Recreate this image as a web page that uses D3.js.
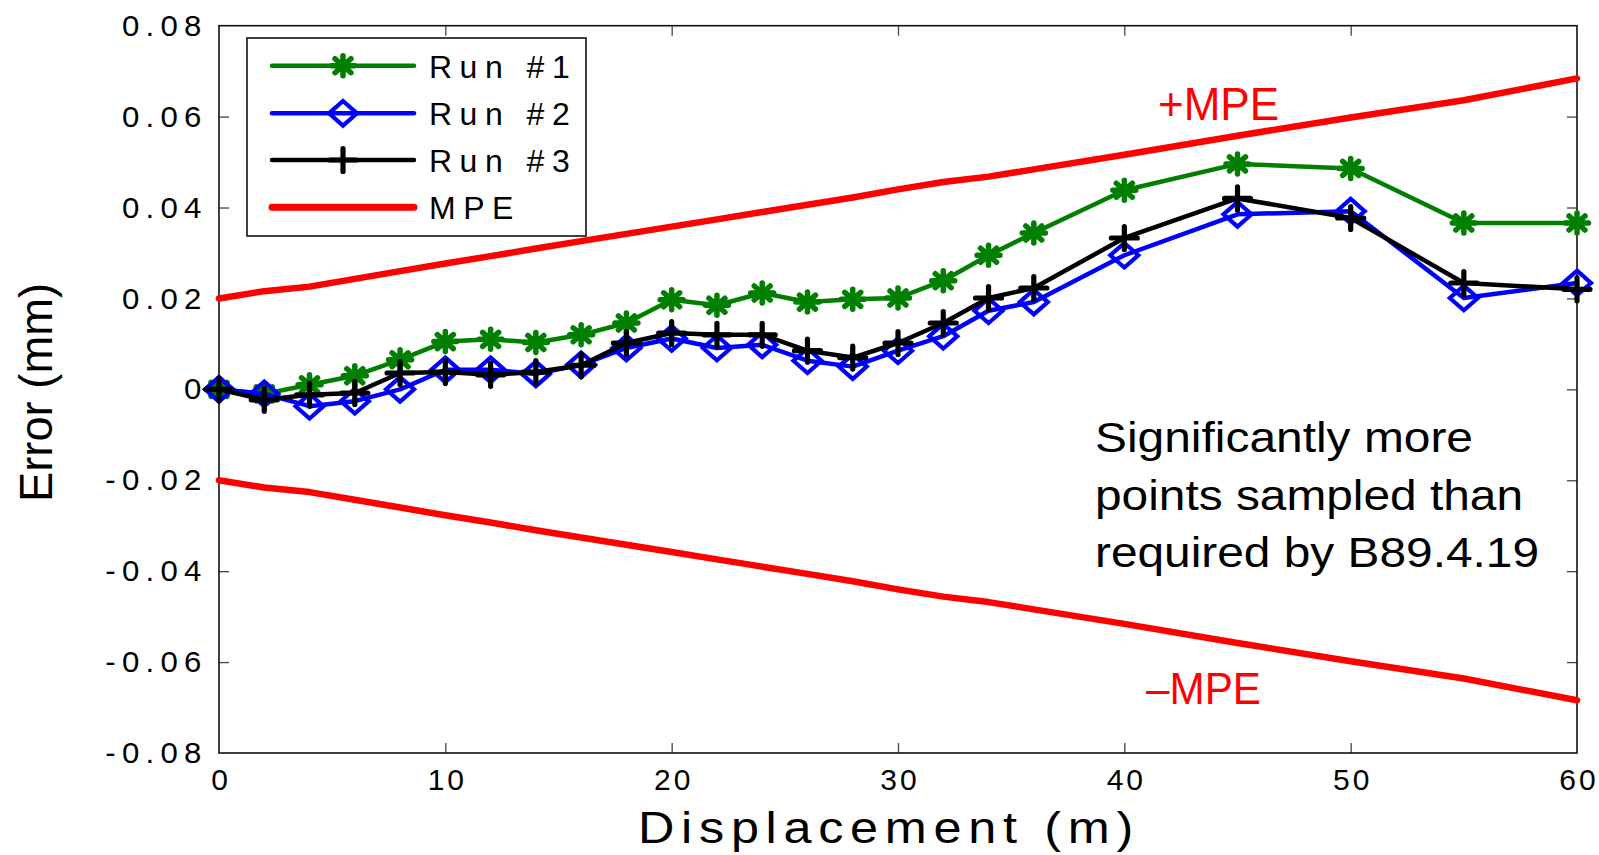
<!DOCTYPE html>
<html><head><meta charset="utf-8">
<script src="https://cdn.jsdelivr.net/npm/d3@7"></script>
<style>body{margin:0;background:#fff;} svg{display:block;}</style>
</head><body><svg id="c" width="1599" height="855"></svg>
<script>
// ---- data ----
const displacement = [0,2,4,6,8,10,12,14,16,18,20,22,24,26,28,30,32,34,36,40,45,50,55,60];
const run1 = [0,-0.001,0.001,0.003,0.0065,0.0105,0.011,0.0103,0.012,0.0146,0.0197,0.0185,0.0212,0.0192,0.0198,0.0201,0.0239,0.0295,0.0344,0.0438,0.0496,0.0486,0.0366,0.0366];
const run2 = [0,-0.001,-0.0037,-0.0026,0,0.0043,0.0043,0.0034,0.0054,0.0091,0.0112,0.0091,0.0098,0.0063,0.005,0.0085,0.0117,0.0173,0.0192,0.0295,0.0385,0.0392,0.0201,0.0234];
const run3 = [0,-0.0023,-0.0012,-0.0008,0.0036,0.0038,0.0032,0.0038,0.0053,0.0102,0.0124,0.012,0.012,0.0085,0.007,0.0102,0.0146,0.0201,0.0223,0.0333,0.042,0.0377,0.0234,0.022];
const mpeUpper = [0.020,0.0216,0.0226,0.0243,0.026,0.0277,0.0293,0.031,0.0326,0.0342,0.0358,0.0374,0.039,0.0406,0.0422,0.0440,0.0456,0.0468,0.0484,0.0516,0.0558,0.0598,0.0636,0.0684];
const mpeLower = [-0.020,-0.0216,-0.0226,-0.0243,-0.026,-0.0277,-0.0293,-0.031,-0.0326,-0.0342,-0.0358,-0.0374,-0.039,-0.0406,-0.0422,-0.0440,-0.0456,-0.0468,-0.0484,-0.0516,-0.0558,-0.0598,-0.0636,-0.0684];
const xTicks = [0,10,20,30,40,50,60];
const yTicks = [-0.08,-0.06,-0.04,-0.02,0,0.02,0.04,0.06,0.08];
const yTickLabels = ["-0.08","-0.06","-0.04","-0.02","0","0.02","0.04","0.06","0.08"];
const legendNames = ["Run #1","Run #2","Run #3","MPE"];
const xLabel = "Displacement (m)";
const yLabel = "Error (mm)";
const noteLines = ["Significantly more","points sampled than","required by B89.4.19"];

// ---- layout ----
const L = 219, R = 1577, T = 25.7, B = 753;
const svg = d3.select("#c");
const x = d3.scaleLinear().domain([0,60]).range([L,R]);
const y = d3.scaleLinear().domain([-0.08,0.08]).range([B,T]);
const FONT = "'Liberation Sans', Arial, Helvetica, sans-serif";

// axes (inward ticks on all sides)
const gx = svg.append("g").attr("transform",`translate(0,${B})`)
  .call(d3.axisBottom(x).tickValues(xTicks).tickSize(-10).tickPadding(15.5).tickFormat(d3.format("d")));
const gy = svg.append("g").attr("transform",`translate(${L},0)`)
  .call(d3.axisLeft(y).tickValues(yTicks).tickSize(-10).tickPadding(11)
        .tickFormat((d)=>yTickLabels[yTicks.indexOf(d)]));
const gt = svg.append("g").attr("transform",`translate(0,${T})`)
  .call(d3.axisTop(x).tickValues(xTicks).tickSize(-10).tickFormat(""));
const gr = svg.append("g").attr("transform",`translate(${R},0)`)
  .call(d3.axisRight(y).tickValues(yTicks).tickSize(-10).tickFormat(""));
[gx,gy,gt,gr].forEach(g=>{
  g.select(".domain").remove();
  g.selectAll(".tick line").attr("stroke","#444").attr("stroke-width",1.3);
  g.selectAll(".tick text").attr("fill","#000").attr("font-family",FONT).attr("font-size",30);
});
gy.selectAll(".tick text").attr("letter-spacing",6).attr("transform","scale(1.04,1)");
gx.selectAll(".tick text").attr("letter-spacing",3).attr("dx",1.5);
gx.selectAll(".tick line").filter(d=>d===0||d===60).remove();
gt.selectAll(".tick line").filter(d=>d===0||d===60).remove();
gy.selectAll(".tick line").filter(d=>d===-0.08||d===0.08).remove();
gr.selectAll(".tick line").filter(d=>d===-0.08||d===0.08).remove();

svg.append("rect").attr("x",L).attr("y",T).attr("width",R-L).attr("height",B-T)
  .attr("fill","none").attr("stroke","#111").attr("stroke-width",1.6);

// axis labels
svg.append("text").attr("x",638).attr("y",843).attr("font-family",FONT).attr("font-size",45)
  .attr("letter-spacing",6).attr("textLength",502).attr("lengthAdjust","spacingAndGlyphs")
  .text(xLabel);
svg.append("text").attr("transform","translate(52,392.5) rotate(-90)").attr("text-anchor","middle")
  .attr("font-family",FONT).attr("font-size",46).attr("textLength",219).attr("lengthAdjust","spacingAndGlyphs")
  .text(yLabel);

// MPE lines
const line = d3.line().x((d,i)=>x(displacement[i])).y(d=>y(d));
[mpeUpper,mpeLower].forEach(s=>{
  svg.append("path").datum(s).attr("d",line).attr("fill","none").attr("stroke","#ff0000")
    .attr("stroke-width",6.5).attr("stroke-linejoin","round").attr("stroke-linecap","round");
});

// markers
function asterisk(g,cx,cy,col){
  const p = `M${cx},${cy-10}L${cx},${cy+10}M${cx-11.5},${cy}L${cx+11.5},${cy}`+
            `M${cx-8},${cy-7}L${cx+8},${cy+7}M${cx-8},${cy+7}L${cx+8},${cy-7}`;
  g.append("path").attr("d",p).attr("stroke",col).attr("stroke-width",5.5).attr("stroke-linecap","round").attr("fill","none");
  g.append("circle").attr("cx",cx).attr("cy",cy).attr("r",5.5).attr("fill",col);
}
function diamond(g,cx,cy,col){
  const p = `M${cx},${cy-12.3}L${cx+14},${cy}L${cx},${cy+12.3}L${cx-14},${cy}Z`;
  g.append("path").attr("d",p).attr("stroke",col).attr("stroke-width",4.2).attr("stroke-linejoin","miter").attr("fill","none");
}
function plus(g,cx,cy,col){
  const p = `M${cx},${cy-11.5}L${cx},${cy+11.5}M${cx-13},${cy}L${cx+13},${cy}`;
  g.append("path").attr("d",p).attr("stroke",col).attr("stroke-width",5.2).attr("stroke-linecap","round").attr("fill","none");
}
const series = [
  {vals:run1,color:"#007f00",mk:asterisk},
  {vals:run2,color:"#0000ff",mk:diamond},
  {vals:run3,color:"#000000",mk:plus}
];
series.forEach(s=>{
  const g = svg.append("g");
  g.append("path").datum(s.vals).attr("d",line).attr("fill","none").attr("stroke",s.color)
    .attr("stroke-width",4.5).attr("stroke-linejoin","round").attr("stroke-linecap","round");
  s.vals.forEach((v,i)=>s.mk(g,x(displacement[i]),y(v),s.color));
});

// annotations
svg.append("text").attr("x",1158).attr("y",120).attr("font-family",FONT).attr("font-size",47)
  .attr("fill","#ff0000").attr("textLength",121).attr("lengthAdjust","spacingAndGlyphs").text("+MPE");
svg.append("text").attr("x",1146).attr("y",704).attr("font-family",FONT).attr("font-size",45)
  .attr("fill","#ff0000").attr("textLength",115).attr("lengthAdjust","spacingAndGlyphs").text("\u2013MPE");
const noteW = [378,428,444];
noteLines.forEach((t,i)=>{
  svg.append("text").attr("x",1095).attr("y",452+i*57.5).attr("font-family",FONT).attr("font-size",42)
    .attr("textLength",noteW[i]).attr("lengthAdjust","spacingAndGlyphs").text(t);
});

// legend
const lg = svg.append("g");
lg.append("rect").attr("x",247).attr("y",38).attr("width",339).attr("height",198)
  .attr("fill","#fff").attr("stroke","#111").attr("stroke-width",1.6);
const rowY = [65.7,113.3,160,207.3];
const legendItems = [
  {color:"#007f00",mk:asterisk,w:4.5},
  {color:"#0000ff",mk:diamond,w:4.5},
  {color:"#000000",mk:plus,w:4.5},
  {color:"#ff0000",mk:null,w:7}
];
legendItems.forEach((it,i)=>{
  lg.append("line").attr("x1",272).attr("x2",414).attr("y1",rowY[i]).attr("y2",rowY[i])
    .attr("stroke",it.color).attr("stroke-width",it.w).attr("stroke-linecap","round");
  if(it.mk) it.mk(lg,343,rowY[i],it.color);
  lg.append("text").attr("x",429).attr("y",rowY[i]+12).attr("font-family",FONT).attr("font-size",32)
    .attr("letter-spacing",7.5).text(legendNames[i]);
});
</script></body></html>
